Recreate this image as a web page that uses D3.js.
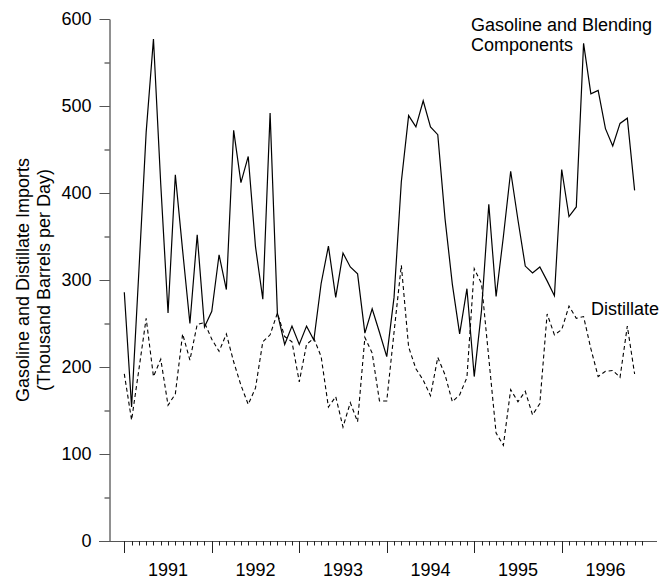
<!DOCTYPE html>
<html>
<head>
<meta charset="utf-8">
<script src="https://cdn.jsdelivr.net/npm/d3@7"></script>
<style>
  body { margin: 0; background: #fff; }
  text { font-family: "Liberation Sans", Arial, sans-serif; fill: #000; }
</style>
</head>
<body>
<script>
// monthly imports, thousand barrels per day
var gasoline = [286, 154, 310, 470, 577, 410, 262, 421, 334, 250, 352, 246,
                264, 329, 289, 472, 412, 442, 338, 278, 492, 262, 226, 247,
                226, 247, 231, 296, 339, 280, 331, 315, 307, 239, 267, 240,
                212, 280, 413, 489, 476, 506, 476, 467, 370, 295, 238, 290,
                189, 265, 387, 281, 350, 425, 369, 316, 308, 315, 299, 282,
                427, 373, 384, 572, 514, 518, 474, 454, 480, 486, 403];
var distillate = [192, 139, 197, 256, 189, 209, 156, 169, 238, 208, 249, 251,
                  232, 218, 238, 206, 179, 157, 176, 229, 237, 262, 235, 229,
                  183, 226, 233, 212, 154, 166, 131, 159, 137, 234, 216, 161,
                  161, 240, 317, 223, 198, 185, 167, 211, 191, 160, 168, 188,
                  313, 296, 210, 124, 110, 174, 160, 172, 145, 158, 261, 237,
                  243, 270, 256, 258, 221, 189, 195, 196, 188, 247, 192];
var years = ["1991", "1992", "1993", "1994", "1995", "1996"];
var yTicks = [0, 100, 200, 300, 400, 500, 600];
var monthCount = 72;

var width = 659, height = 581;

var svg = d3.select("body").append("svg")
    .attr("width", width)
    .attr("height", height);

var x = d3.scaleLinear().domain([0, monthCount - 1]).range([124.3, 641.9]);
var y = d3.scaleLinear().domain([0, 600]).range([541, 19]);

// y axis: minor ticks every 50, major every 100
svg.append("g")
    .attr("transform", "translate(109.5,0)")
    .call(d3.axisLeft(y).tickValues(d3.range(0, 601, 50)).tickSize(5).tickSizeOuter(0).tickFormat(""))
    .call(function(g) { g.selectAll("line,path").attr("stroke", "#222"); });
var yAxis = svg.append("g")
    .attr("transform", "translate(109.5,0)")
    .call(d3.axisLeft(y).tickValues(yTicks).tickSize(10).tickSizeOuter(0).tickPadding(8));
yAxis.select(".domain").remove();
yAxis.selectAll("line").attr("stroke", "#555");
yAxis.selectAll("text").style("font-size", "18px").attr("fill", "#000")
    .attr("font-family", "Liberation Sans, Arial, sans-serif");

// x axis line
svg.append("line")
    .attr("x1", 99).attr("x2", 657)
    .attr("y1", 541.5).attr("y2", 541.5)
    .attr("stroke", "#555");

// month ticks and year ticks
var monthIdx = d3.range(monthCount);
svg.append("g").selectAll("line")
    .data(monthIdx)
    .enter().append("line")
    .attr("x1", function(d) { return Math.round(x(d)) + 0.5; })
    .attr("x2", function(d) { return Math.round(x(d)) + 0.5; })
    .attr("y1", 541)
    .attr("y2", function(d) { return d % 12 === 0 ? 553 : 545.5; })
    .attr("stroke", "#222");

svg.append("g").selectAll("text")
    .data(years)
    .enter().append("text")
    .attr("x", function(d, i) { return x(i * 12 + 6); })
    .attr("y", 576)
    .attr("text-anchor", "middle")
    .style("font-size", "18px")
    .text(function(d) { return d; });

// y axis title
var title = svg.append("text")
    .attr("transform", "translate(0,280) rotate(-90)")
    .attr("text-anchor", "middle")
    .style("font-size", "18px");
title.append("tspan").attr("x", 0).attr("y", 29).text("Gasoline and Distillate Imports");
title.append("tspan").attr("x", 0).attr("y", 50).text("(Thousand Barrels per Day)");

// series lines
var line = d3.line()
    .x(function(d, i) { return x(i); })
    .y(function(d) { return y(d); });

svg.append("path")
    .datum(distillate)
    .attr("d", line)
    .attr("fill", "none")
    .attr("stroke", "#000")
    .attr("stroke-width", 1.1)
    .attr("stroke-dasharray", "4,3");

svg.append("path")
    .datum(gasoline)
    .attr("d", line)
    .attr("fill", "none")
    .attr("stroke", "#000")
    .attr("stroke-width", 1.2);

// series labels
var gl = svg.append("text").style("font-size", "18px");
gl.append("tspan").attr("x", 471).attr("y", 31).text("Gasoline and Blending");
gl.append("tspan").attr("x", 471).attr("y", 51).text("Components");

svg.append("text")
    .attr("x", 591)
    .attr("y", 315)
    .style("font-size", "18px")
    .text("Distillate");
</script>
</body>
</html>
